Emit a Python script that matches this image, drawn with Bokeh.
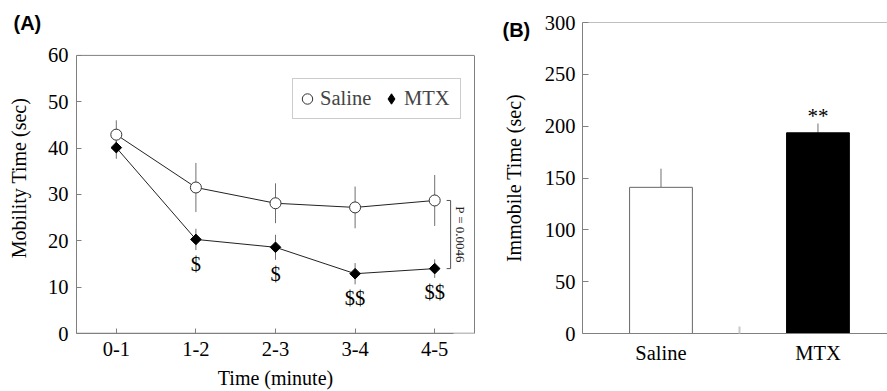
import json
import math
from bokeh.plotting import figure
from bokeh.models import (FactorRange, Range1d, FixedTicker, Legend, LegendItem,
                          Label, Span, LinearAxis, CustomJSTickFormatter)
from bokeh.layouts import row
from bokeh.embed import file_html
from bokeh.resources import INLINE
from bokeh.core.properties import value

# ---------------- data ----------------
time_bins = ["0-1", "1-2", "2-3", "3-4", "4-5"]
saline_mean = [42.9, 31.5, 28.1, 27.2, 28.7]
saline_sem = [3.1, 5.3, 4.3, 4.5, 5.5]
mtx_mean = [40.1, 20.3, 18.6, 12.9, 14.0]
mtx_sem = [2.4, 2.3, 2.7, 2.3, 2.0]
mtx_sig = ["", "$", "$", "$$", "$$"]
p_text = "P = 0.0046"
y_ticks_a = [0, 10, 20, 30, 40, 50, 60]

groups = ["Saline", "MTX"]
immobile_mean = [141.0, 193.6]
immobile_sem = [18.0, 9.0]
immobile_sig = ["", "**"]
y_ticks_b = [0, 50, 100, 150, 200, 250, 300]

SERIF = "Liberation Serif"
SANS = "Liberation Sans"
AX = "#808080"
FS = "20.5px"

# frame top is set by the height of the panel-label strip above the frames
FRAME_TOP, FRAME_BOTTOM, BOX_TOP_A = 22, 334, 55


def style_axis(ax, tick_in=5):
    ax.axis_line_color = AX
    ax.major_tick_line_color = AX
    ax.major_tick_in = tick_in
    ax.major_tick_out = 0
    ax.minor_tick_line_color = None
    ax.major_label_text_font = SERIF
    ax.major_label_text_font_size = FS
    ax.major_label_text_color = "black"
    ax.axis_label_text_font = SERIF
    ax.axis_label_text_font_size = "20px"
    ax.axis_label_text_font_style = "normal"
    ax.axis_label_text_color = "black"


def panel_label(text, x, y):
    return Label(x=x, y=y, x_units="screen", y_units="screen", text=text,
                 text_font=SANS, text_font_style="bold", text_font_size="20px",
                 text_line_height=0.9, text_baseline="top", text_align="left",
                 text_color="black")


# ---------------- panel A ----------------
a_top = y_ticks_a[-1]
a_range_top = a_top * (FRAME_BOTTOM - FRAME_TOP) / (FRAME_BOTTOM - BOX_TOP_A)
pA = figure(width=487, height=391, output_backend="svg", toolbar_location=None,
            x_range=FactorRange(factors=time_bins), y_range=Range1d(0, a_range_top),
            min_border_left=76, min_border_right=13, min_border_top=19,
            min_border_bottom=391 - FRAME_BOTTOM)
pA.grid.visible = False
pA.outline_line_color = None
pA.background_fill_color = "white"
pA.border_fill_color = "white"

style_axis(pA.xaxis[0])
style_axis(pA.yaxis[0])
pA.yaxis[0].ticker = FixedTicker(ticks=y_ticks_a)
pA.yaxis[0].bounds = (0, a_top)
pA.yaxis[0].major_label_standoff = 8
pA.yaxis[0].axis_label = "Mobility Time (sec)"
pA.yaxis[0].axis_label_standoff = 15
pA.xaxis[0].major_label_standoff = 8
pA.xaxis[0].axis_label = "Time (minute)"
pA.xaxis[0].axis_label_standoff = 8
# the x-axis title sits a little left of the frame centre in the reference
pA.xaxis[0].bounds = (0, len(time_bins) - 0.27)

right_ax = LinearAxis(bounds=(0, a_top), axis_line_color=AX,
                      ticker=FixedTicker(ticks=[]),
                      major_tick_line_color=None, minor_tick_line_color=None,
                      major_label_standoff=0)
pA.add_layout(right_ax, "right")
pA.add_layout(Span(location=a_top, dimension="width", line_color=AX, line_width=1))
pA.add_layout(Span(location=0, dimension="width", line_color=AX, line_width=1.5))

# error bars
pA.segment(x0=time_bins, x1=time_bins,
           y0=[m - s for m, s in zip(saline_mean, saline_sem)],
           y1=[m + s for m, s in zip(saline_mean, saline_sem)],
           line_color="#707070", line_width=1)
pA.segment(x0=time_bins, x1=time_bins,
           y0=[m - s for m, s in zip(mtx_mean, mtx_sem)],
           y1=[m + s for m, s in zip(mtx_mean, mtx_sem)],
           line_color="#707070", line_width=1)
# lines
pA.line(time_bins, saline_mean, line_color="#222222", line_width=1)
pA.line(time_bins, mtx_mean, line_color="#222222", line_width=1)
# markers
r_sal = pA.scatter(time_bins, saline_mean, marker="circle", size=11,
                   fill_color="white", line_color="#333333", line_width=1)
pA.scatter(time_bins, mtx_mean, marker="square", size=7.5,
           angle=math.pi / 4, fill_color="black", line_color="black")
# diamond glyph used for the legend entry (hidden in the plot area)
r_mtx_leg = pA.scatter(time_bins, mtx_mean, marker="diamond", size=12,
                       fill_color="black", line_color="black", visible=False)

# significance marks
pA.text(x=time_bins, y=[m - s for m, s in zip(mtx_mean, mtx_sem)], text=mtx_sig,
        text_align="center", text_baseline="top", y_offset=3,
        text_font=value(SERIF), text_font_size=FS, text_color="black")

# bracket with P value
n = len(time_bins)
bx = n - 0.3
pA.segment(x0=[bx, bx - 0.05, bx - 0.05], x1=[bx, bx, bx],
           y0=[saline_mean[-1], saline_mean[-1], mtx_mean[-1]],
           y1=[mtx_mean[-1], saline_mean[-1], mtx_mean[-1]],
           line_color="#555555", line_width=1)
pA.text(x=[n - 0.17], y=[(saline_mean[-1] + mtx_mean[-1]) / 2], text=[p_text],
        angle=-math.pi / 2, text_align="center", text_baseline="middle",
        text_font=value(SERIF), text_font_size="13px", text_color="#222222")

legend = Legend(items=[LegendItem(label="Saline", renderers=[r_sal]),
                       LegendItem(label="MTX", renderers=[r_mtx_leg])],
                orientation="horizontal", location=(216, 214),
                glyph_width=26, glyph_height=37, label_height=37, label_width=55,
                padding=1, margin=0, label_standoff=0, spacing=3,
                label_text_font=SERIF, label_text_font_size=FS,
                border_line_color="#999999", border_line_width=1,
                background_fill_alpha=1.0, inactive_fill_alpha=0.0)
pA.add_layout(legend, "center")

pA.add_layout(panel_label("(A)", -63, 11), "above")

# ---------------- panel B ----------------
xs = list(range(len(groups)))
pB = figure(width=400, height=391, output_backend="svg", toolbar_location=None,
            x_range=Range1d(-0.5, 1.443), y_range=Range1d(0, y_ticks_b[-1]),
            min_border_left=95, min_border_right=0, min_border_top=19,
            min_border_bottom=391 - FRAME_BOTTOM)
pB.grid.visible = False
pB.outline_line_color = None
pB.background_fill_color = "white"
pB.border_fill_color = "white"

style_axis(pB.xaxis[0], tick_in=0)
style_axis(pB.yaxis[0], tick_in=6)
pB.yaxis[0].ticker = FixedTicker(ticks=y_ticks_b)
pB.yaxis[0].major_label_standoff = 7
pB.yaxis[0].axis_label = "Immobile Time (sec)"
pB.yaxis[0].axis_label_standoff = 17
pB.xaxis[0].ticker = FixedTicker(ticks=xs, minor_ticks=[0.5])
pB.xaxis[0].formatter = CustomJSTickFormatter(
    code="const names = %s; const i = Math.round(tick); return names[i] === undefined ? '' : names[i];"
    % json.dumps(groups))
pB.xaxis[0].minor_tick_line_color = "#c8c8c8"
pB.xaxis[0].minor_tick_in = 7
pB.xaxis[0].minor_tick_out = 0
pB.xaxis[0].minor_tick_line_width = 2
pB.xaxis[0].major_label_standoff = 8

pB.add_layout(Span(location=y_ticks_b[-1], dimension="width", line_color=AX, line_width=1))

pB.segment(x0=xs, x1=xs, y0=immobile_mean,
           y1=[m + s for m, s in zip(immobile_mean, immobile_sem)],
           line_color="#707070", line_width=1)
pB.vbar(x=xs, top=immobile_mean, bottom=0, width=0.4,
        fill_color=["white", "black"], line_color=["#666666", "black"], line_width=1)
pB.text(x=xs, y=[m + s for m, s in zip(immobile_mean, immobile_sem)], text=immobile_sig,
        text_align="center", text_baseline="alphabetic", y_offset=-7,
        text_font=value(SERIF), text_font_size="21px", text_color="black")

pB.add_layout(panel_label("(B)", -80, 4), "above")

layout = row(pA, pB)
open("out.html", "w").write(file_html(layout, INLINE))
